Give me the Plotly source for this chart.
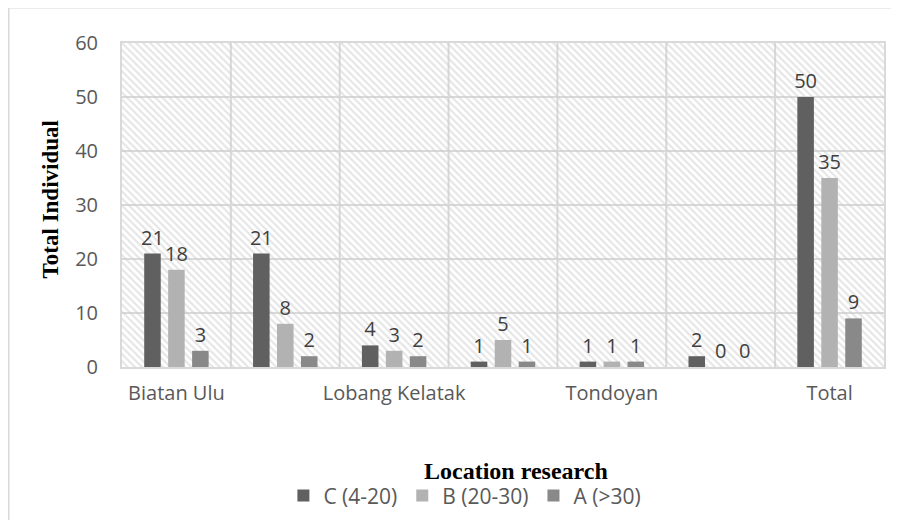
import plotly.graph_objects as go

# ---- data ----
tick_labels = ["Biatan Ulu", "", "Lobang Kelatak", "", "Tondoyan", "", "Total"]
series_names = ["C (4-20)", "B (20-30)", "A (>30)"]
values_c = [21, 21, 4, 1, 1, 2, 50]
values_b = [18, 8, 3, 5, 1, 0, 35]
values_a = [3, 2, 2, 1, 1, 0, 9]
y_ticks = [0, 10, 20, 30, 40, 50, 60]

series_values = [values_c, values_b, values_a]
colors = ["#606060", "#b2b2b2", "#898989"]
offsets = [-0.22, 0.0, 0.22]
bar_w = 0.152

n = len(tick_labels)
xs = list(range(n))
ymax = y_ticks[-1]

label_font = dict(family="Open Sans", size=20, color="#595959")

fig = go.Figure()

# hatched plot-area background
fig.add_trace(go.Bar(
    x=[(n - 1) / 2], y=[ymax], base=0, width=[n],
    marker=dict(color="rgba(0,0,0,0)", line=dict(width=0),
                pattern=dict(shape="\\", fgcolor="#cccccc", bgcolor="rgba(0,0,0,0)",
                             size=5, solidity=0.42)),
    showlegend=False, hoverinfo="skip",
))

for name, vals, col, off in zip(series_names, series_values, colors, offsets):
    fig.add_trace(go.Bar(
        name=name, x=[x + off for x in xs], y=vals, width=bar_w,
        marker=dict(color=col, line=dict(width=0)),
        text=[str(v) for v in vals], textposition="outside",
        textfont=dict(family="Open Sans", size=20, color="#404040"),
        cliponaxis=False, constraintext="none",
    ))

# vertical category separators
shapes = []
for i in range(n - 1):
    shapes.append(dict(type="line", xref="x", yref="y", x0=i + 0.5, x1=i + 0.5,
                       y0=0, y1=ymax, line=dict(color="#d9d9d9", width=2), layer="between"))
# outer chart border (top and left visible)
shapes.append(dict(type="line", xref="paper", yref="paper", x0=-0.149, x1=1.03,
                   y0=1.108, y1=1.108, line=dict(color="#d9d9d9", width=1), layer="above"))
shapes.append(dict(type="line", xref="paper", yref="paper", x0=-0.149, x1=-0.149,
                   y0=1.108, y1=-0.5, line=dict(color="#d9d9d9", width=2), layer="above"))

fig.update_layout(
    width=891, height=512,
    margin=dict(l=114, r=15, t=35, b=153, autoexpand=False),
    paper_bgcolor="white", plot_bgcolor="white",
    barmode="overlay",
    shapes=shapes,
    showlegend=True,
    legend=dict(orientation="h", xref="paper", yref="container",
                x=0.45, y=0.047, xanchor="center", yanchor="middle",
                font=dict(family="Open Sans", size=21, color="#595959"),
                traceorder="normal", itemwidth=30),
    annotations=[
        dict(text="<b>Location research</b>", xref="paper", yref="paper",
             x=0.517, y=-0.321, showarrow=False, yanchor="middle",
             font=dict(family="Liberation Serif", size=24, color="black")),
        dict(text="<b>Total Individual</b>", xref="paper", yref="paper",
             x=-0.113, y=0.5185, textangle=-90, showarrow=False,
             font=dict(family="Liberation Serif", size=23, color="black")),
    ],
)

fig.update_xaxes(range=[-0.5, n - 0.5], tickvals=xs, ticktext=tick_labels,
                 showgrid=False, zeroline=False, ticks="",
                 showline=True, linecolor="#d9d9d9", linewidth=2, mirror=True,
                 tickfont=label_font, ticklabelstandoff=7, automargin=False)
fig.update_yaxes(range=[0, ymax], tickvals=y_ticks, showgrid=True,
                 gridcolor="#d9d9d9", gridwidth=2, zeroline=False, ticks="",
                 showline=True, linecolor="#d9d9d9", linewidth=2, mirror=True,
                 tickfont=label_font, ticklabelstandoff=18, automargin=False)

fig.write_html("out.html")
